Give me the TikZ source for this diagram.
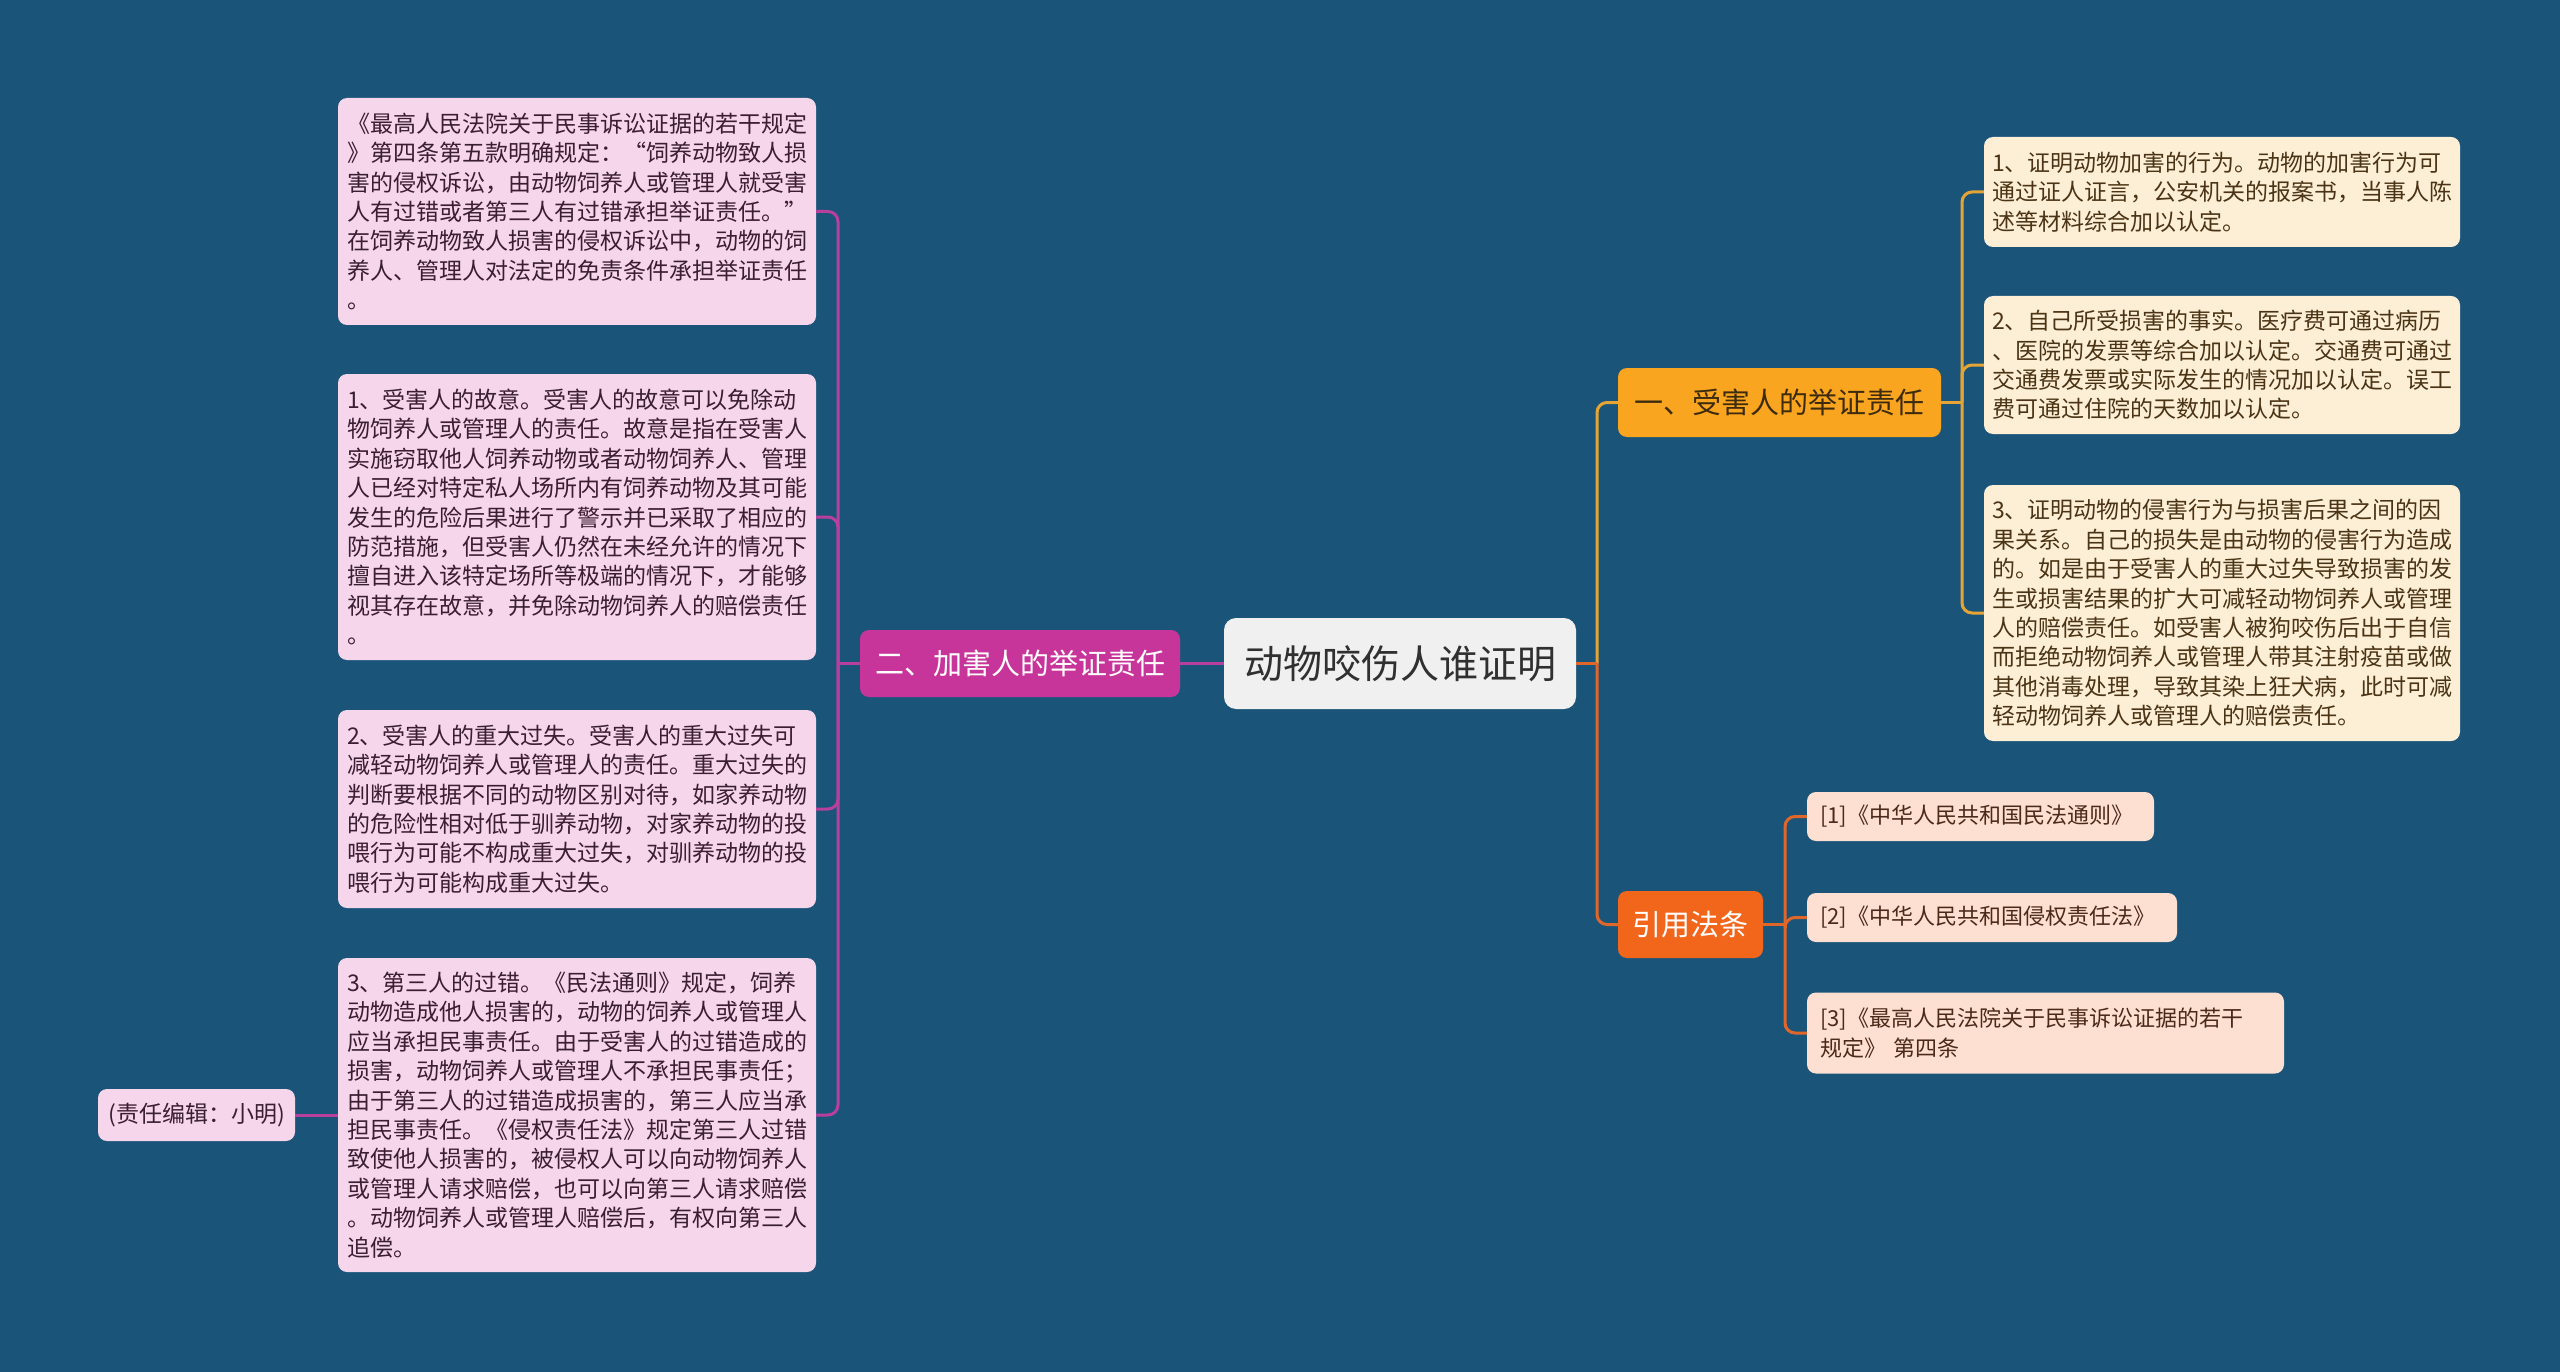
\documentclass[tikz,border=0pt]{standalone}
\usepackage{fontspec}
\setmainfont{Noto Sans CJK SC}
\definecolor{bg}{HTML}{1B5479}
\definecolor{cfill}{HTML}{F0F0F0}
\definecolor{ctext}{HTML}{303030}
\definecolor{magfill}{HTML}{C7359B}
\definecolor{magline}{HTML}{B8409C}
\definecolor{pinkfill}{HTML}{F5D6EA}
\definecolor{pinktext}{HTML}{3A1E33}
\definecolor{orfill}{HTML}{FAA51F}
\definecolor{ortext}{HTML}{3D2B10}
\definecolor{orline}{HTML}{E5A536}
\definecolor{creamfill}{HTML}{FDEFD6}
\definecolor{creamtext}{HTML}{4B3415}
\definecolor{redfill}{HTML}{F2661C}
\definecolor{redline}{HTML}{E0662A}
\definecolor{peachfill}{HTML}{FDE0D1}
\definecolor{peachtext}{HTML}{4A2A1A}
\tikzset{
  boxbase/.style={rounded corners=9pt, inner sep=0pt},
  central/.style={boxbase, rounded corners=12pt, fill=cfill, text=ctext, font=\fontsize{39}{46}\selectfont},
  magbranch/.style={boxbase, fill=magfill, text=white, font=\fontsize{29}{35}\selectfont},
  orbranch/.style={boxbase, fill=orfill, text=ortext, font=\fontsize{29}{35}\selectfont},
  refbranch/.style={boxbase, fill=redfill, text=white, font=\fontsize{29}{35}\selectfont},
  pinkleaf/.style={boxbase, fill=pinkfill, text=pinktext, text width=460pt, inner xsep=9pt, align=left, font=\fontsize{23}{29.4}\selectfont},
  creamleaf/.style={boxbase, fill=creamfill, text=creamtext, text width=460pt, inner xsep=8pt, align=left, font=\fontsize{23}{29.4}\selectfont},
  peachleaf/.style={boxbase, fill=peachfill, text=peachtext, inner xsep=13pt, align=left, font=\fontsize{22}{29.4}\selectfont},
  editor/.style={boxbase, fill=pinkfill, text=pinktext, font=\fontsize{23}{29.4}\selectfont},
  mline/.style={draw=magline, line width=3pt},
  oline/.style={draw=orline, line width=3pt},
  rline/.style={draw=redline, line width=3pt},
}
\begin{document}
\begin{tikzpicture}[x=1pt,y=-1pt]
\fill[bg] (0,0) rectangle (2560,1372);
\useasboundingbox (0,0) rectangle (2560,1372);

% main nodes
\node[central, minimum width=352pt, minimum height=91pt] (c) at (1400,663.5) {动物咬伤人谁证明};
\node[magbranch, minimum width=320pt, minimum height=67pt] (b2) at (1020,663.5) {二、加害人的举证责任};
\node[orbranch, minimum width=323pt, minimum height=69pt] (b1) at (1779.5,402.5) {一、受害人的举证责任};
\node[refbranch, minimum width=145pt, minimum height=67pt] (b3) at (1690.5,924.5) {引用法条};

% left leaves
\node[pinkleaf, minimum height=227pt] (l0) at (577,211.5) {《最高人民法院关于民事诉讼证据的若干规定\\》第四条第五款明确规定：“饲养动物致人损\\害的侵权诉讼，由动物饲养人或管理人就受害\\人有过错或者第三人有过错承担举证责任。”\\在饲养动物致人损害的侵权诉讼中，动物的饲\\养人、管理人对法定的免责条件承担举证责任\\。};
\node[pinkleaf, minimum height=286pt] (l1) at (577,517) {1、受害人的故意。受害人的故意可以免除动\\物饲养人或管理人的责任。故意是指在受害人\\实施窃取他人饲养动物或者动物饲养人、管理\\人已经对特定私人场所内有饲养动物及其可能\\发生的危险后果进行了警示并已采取了相应的\\防范措施，但受害人仍然在未经允许的情况下\\擅自进入该特定场所等极端的情况下，才能够\\视其存在故意，并免除动物饲养人的赔偿责任\\。};
\node[pinkleaf, minimum height=198pt] (l2) at (577,809) {2、受害人的重大过失。受害人的重大过失可\\减轻动物饲养人或管理人的责任。重大过失的\\判断要根据不同的动物区别对待，如家养动物\\的危险性相对低于驯养动物，对家养动物的投\\喂行为可能不构成重大过失，对驯养动物的投\\喂行为可能构成重大过失。};
\node[pinkleaf, minimum height=314pt] (l3) at (577,1115) {3、第三人的过错。《民法通则》规定，饲养\\动物造成他人损害的，动物的饲养人或管理人\\应当承担民事责任。由于受害人的过错造成的\\损害，动物饲养人或管理人不承担民事责任；\\由于第三人的过错造成损害的，第三人应当承\\担民事责任。《侵权责任法》规定第三人过错\\致使他人损害的，被侵权人可以向动物饲养人\\或管理人请求赔偿，也可以向第三人请求赔偿\\。动物饲养人或管理人赔偿后，有权向第三人\\追偿。};
\node[editor, minimum width=197pt, minimum height=52pt] (ed) at (196.5,1115) {(责任编辑：小明)};

% right leaves
\node[creamleaf, minimum height=110pt] (r1) at (2222,192) {1、证明动物加害的行为。动物的加害行为可\\通过证人证言，公安机关的报案书，当事人陈\\述等材料综合加以认定。};
\node[creamleaf, minimum height=138pt] (r2) at (2222,365) {2、自己所受损害的事实。医疗费可通过病历\\、医院的发票等综合加以认定。交通费可通过\\交通费发票或实际发生的情况加以认定。误工\\费可通过住院的天数加以认定。};
\node[creamleaf, minimum height=256pt] (r3) at (2222,613) {3、证明动物的侵害行为与损害后果之间的因\\果关系。自己的损失是由动物的侵害行为造成\\的。如是由于受害人的重大过失导致损害的发\\生或损害结果的扩大可减轻动物饲养人或管理\\人的赔偿责任。如受害人被狗咬伤后出于自信\\而拒绝动物饲养人或管理人带其注射疫苗或做\\其他消毒处理，导致其染上狂犬病，此时可减\\轻动物饲养人或管理人的赔偿责任。};

% reference leaves
\node[peachleaf, text width=321pt, minimum height=49pt] (f1) at (1980.5,816.5) {[1]《中华人民共和国民法通则》};
\node[peachleaf, text width=344pt, minimum height=49pt] (f2) at (1992,917.5) {[2]《中华人民共和国侵权责任法》};
\node[peachleaf, text width=451pt, minimum height=81pt] (f3) at (2045.5,1033) {[3]《最高人民法院关于民事诉讼证据的若干\\规定》 第四条};

% junctions
\coordinate (jl) at (838,663.5);
\coordinate (jr) at (1597,663.5);
\coordinate (j1) at (1962,402.5);
\coordinate (j3) at (1785,924.5);

% connectors
\draw[mline] (c.west) -- (b2.east);
\draw[mline] (b2.west) -- (jl);
\foreach \n in {l0,l1,l2,l3} \draw[mline, rounded corners=10pt] (jl) |- (\n.east);
\draw[mline] (l3.west) -- (ed.east);

\draw[oline, rounded corners=10pt] (jr) |- (b1.west);
\draw[rline, rounded corners=10pt] (jr) |- (b3.west);
\draw[rline] (c.east) -- (jr);

\draw[oline] (b1.east) -- (j1);
\foreach \n in {r1,r2,r3} \draw[oline, rounded corners=10pt] (j1) |- (\n.west);

\draw[rline] (b3.east) -- (j3);
\foreach \n in {f1,f2,f3} \draw[rline, rounded corners=10pt] (j3) |- (\n.west);
\end{tikzpicture}
\end{document}
